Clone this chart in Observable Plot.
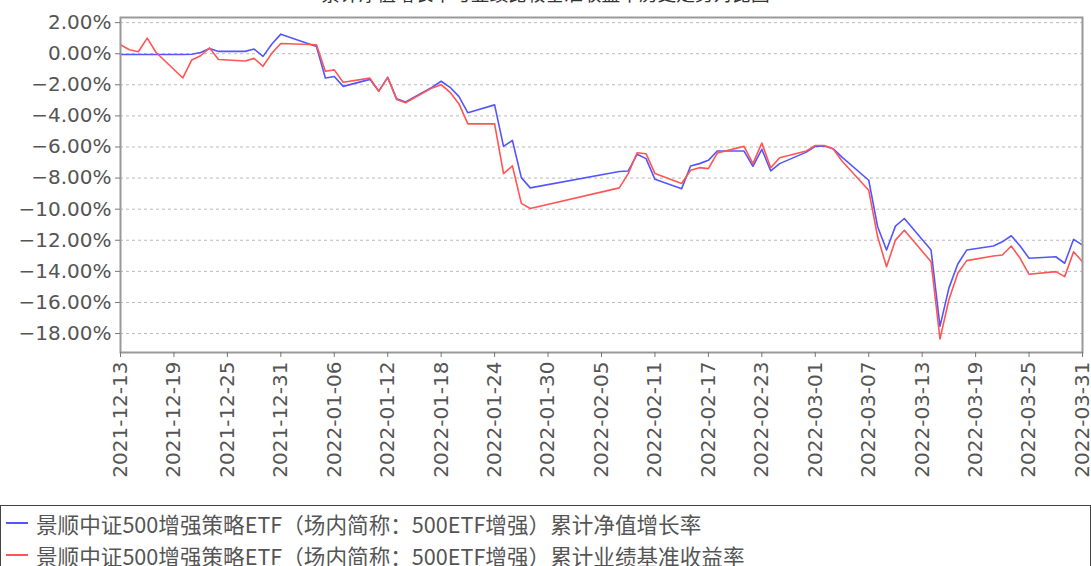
<!DOCTYPE html>
<html><head><meta charset="utf-8">
<script src="https://cdn.jsdelivr.net/npm/d3@7"></script>
<script src="https://cdn.jsdelivr.net/npm/@observablehq/plot@0.6"></script>
<style>
body{margin:0;background:#fff;width:1091px;height:566px;overflow:hidden;position:relative;}
#title{position:absolute;z-index:2;top:-21px;left:0;width:1091px;text-align:center;font:18.7px "Noto Sans CJK SC";color:#333;white-space:nowrap;}
#chart{position:absolute;left:0;top:0;z-index:1;}
#legend{position:absolute;left:0;top:505px;height:80px;border:1px solid #444;box-sizing:border-box;width:1091px;}
.row{position:absolute;left:0;height:30px;display:flex;align-items:center;font:21.6px "Noto Sans CJK SC";color:#555;white-space:nowrap;}
.sw{display:inline-block;width:22px;height:2px;margin:0 8px 0 5px;}
</style></head>
<body>
<div id="title">累计净值增长率与业绩比较基准收益率历史走势对比图</div>
<div id="chart"></div>
<div id="legend"></div>
<script>
const dates = ["2021-12-13","2021-12-14","2021-12-15","2021-12-16","2021-12-17","2021-12-20","2021-12-21","2021-12-22","2021-12-23","2021-12-24","2021-12-27","2021-12-28","2021-12-29","2021-12-30","2021-12-31","2022-01-04","2022-01-05","2022-01-06","2022-01-07","2022-01-10","2022-01-11","2022-01-12","2022-01-13","2022-01-14","2022-01-17","2022-01-18","2022-01-19","2022-01-20","2022-01-21","2022-01-24","2022-01-25","2022-01-26","2022-01-27","2022-01-28","2022-02-07","2022-02-08","2022-02-09","2022-02-10","2022-02-11","2022-02-14","2022-02-15","2022-02-16","2022-02-17","2022-02-18","2022-02-21","2022-02-22","2022-02-23","2022-02-24","2022-02-25","2022-02-28","2022-03-01","2022-03-02","2022-03-03","2022-03-04","2022-03-07","2022-03-08","2022-03-09","2022-03-10","2022-03-11","2022-03-14","2022-03-15","2022-03-16","2022-03-17","2022-03-18","2022-03-21","2022-03-22","2022-03-23","2022-03-24","2022-03-25","2022-03-28","2022-03-29","2022-03-30","2022-03-31"];

const navGrowth = [-0.05,-0.05,-0.05,-0.05,-0.05,-0.05,-0.03,0.08,0.34,0.15,0.15,0.30,-0.17,0.62,1.26,
  0.47,-1.56,-1.47,-2.10,-1.65,-2.41,-1.52,-2.90,-3.10,-2.15,-1.77,-2.16,-2.76,-3.80,-3.29,-5.96,-5.58,-7.97,-8.63,
  -7.58,-7.54,-6.47,-6.75,-8.08,-8.68,-7.22,-7.07,-6.86,-6.26,-6.26,-7.24,-6.15,-7.54,-7.07,-6.33,
  -5.96,-5.94,-6.11,-6.65,-8.14,-11.13,-12.63,-11.09,-10.60,-12.63,-17.54,-15.08,-13.53,-12.63,-12.37,-12.10,-11.71,-12.37,-13.16,-13.06,-13.48,-11.94,-12.31];

const benchmark = [0.58,0.26,0.13,1.00,0.08,-1.56,-0.40,-0.13,0.37,-0.37,-0.47,-0.30,-0.81,0.04,0.66,
  0.58,-1.13,-1.04,-1.84,-1.57,-2.41,-1.52,-2.95,-3.15,-2.20,-1.99,-2.48,-3.23,-4.51,-4.51,-7.71,-7.22,-9.63,-9.96,
  -8.63,-7.71,-6.37,-6.43,-7.71,-8.35,-7.50,-7.33,-7.39,-6.39,-5.96,-7.07,-5.75,-7.33,-6.69,-6.26,
  -5.90,-5.90,-6.11,-6.90,-8.78,-11.78,-13.70,-11.99,-11.35,-13.38,-18.35,-15.83,-14.12,-13.31,-13.01,-12.95,-12.37,-13.16,-14.19,-14.02,-14.34,-12.74,-13.38];

const seriesNames = ["景顺中证500增强策略ETF（场内简称：500ETF增强）累计净值增长率","景顺中证500增强策略ETF（场内简称：500ETF增强）累计业绩基准收益率"];
const seriesColors = ["#5555ff","#ff5555"];

const xTickLabels = ["2021-12-13","2021-12-19","2021-12-25","2021-12-31","2022-01-06","2022-01-12","2022-01-18","2022-01-24","2022-01-30","2022-02-05","2022-02-11","2022-02-17","2022-02-23","2022-03-01","2022-03-07","2022-03-13","2022-03-19","2022-03-25","2022-03-31"];
const yTicks = [2,0,-2,-4,-6,-8,-10,-12,-14,-16,-18];

const parse = d3.utcParse("%Y-%m-%d");
const rows = [];
dates.forEach((d,i)=>{
  rows.push({date: parse(d), value: navGrowth[i], series: seriesNames[0]});
});
dates.forEach((d,i)=>{
  rows.push({date: parse(d), value: benchmark[i], series: seriesNames[1]});
});

const fmtY = v => (v < 0 ? "\u2212" : "") + Math.abs(v).toFixed(2) + "%";

const chart = Plot.plot({
  width: 1091,
  height: 502,
  marginTop: 17,
  marginBottom: 150,
  marginLeft: 120,
  marginRight: 9,
  style: {fontFamily: "DejaVu Sans", fontSize: "20px", color: "#555", background: "transparent"},
  x: {type: "utc", domain: [parse("2021-12-13"), parse("2022-03-31")], label: null},
  y: {domain: [-19.22, 2.33], label: null},
  color: {domain: seriesNames, range: seriesColors},
  marks: [
    Plot.gridY(yTicks, {stroke: "#bbb", strokeOpacity: 1, strokeDasharray: "3,3"}),
    Plot.line(rows, {x: "date", y: "value", z: "series", stroke: "series", strokeWidth: 1.6}),
    Plot.frame({stroke: "#999", strokeWidth: 2}),
    Plot.axisY(yTicks, {tickFormat: fmtY, tickSize: 5, tickPadding: 4, fontSize: 20, stroke: "#777", label: null}),
    Plot.axisX(xTickLabels.map(parse), {tickFormat: d3.utcFormat("%Y-%m-%d"), tickRotate: -90, tickSize: 5, tickPadding: 4, fontSize: 20, stroke: "#777", label: null})
  ]
});
document.getElementById("chart").appendChild(chart);

const leg = document.getElementById("legend");
seriesNames.forEach((name,i)=>{
  const r = document.createElement("div");
  r.className = "row";
  r.style.top = (2 + i*32) + "px";
  const sw = document.createElement("span");
  sw.className = "sw";
  sw.style.background = seriesColors[i];
  r.appendChild(sw);
  const t = document.createElement("span");
  t.textContent = name;
  r.appendChild(t);
  leg.appendChild(r);
});
</script>
</body></html>
